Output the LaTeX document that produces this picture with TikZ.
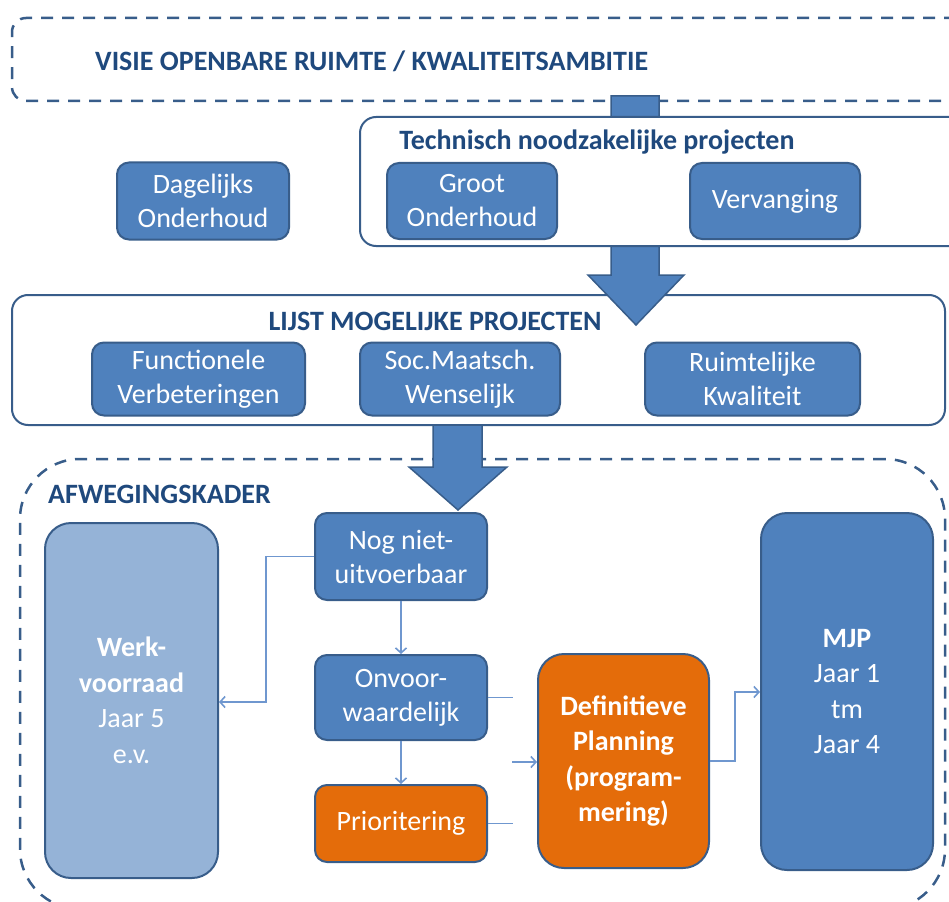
\documentclass[tikz,border=0pt]{standalone}
\usepackage{fontspec}
\setmainfont{Carlito}
\usetikzlibrary{arrows.meta,positioning,calc}
\definecolor{boxblue}{HTML}{4F81BD}
\definecolor{edgeblue}{HTML}{385D8A}
\definecolor{titleblue}{HTML}{1F497D}
\definecolor{paleblue}{HTML}{95B3D7}
\definecolor{lineblue}{HTML}{6F97CF}
\definecolor{planorange}{HTML}{E46C0A}

\tikzset{
    blok/.style={draw=edgeblue, line width=2pt, fill=boxblue, rounded corners=12pt, inner sep=0pt,
        text=white, align=center, font=\fontsize{28}{34}\selectfont},
    hoogblok/.style={blok, rounded corners=26pt, font=\fontsize{28}{35.5}\selectfont},
    kader/.style={draw=edgeblue, line width=2pt, fill=white, rounded corners=16pt, inner sep=0pt},
    streepkader/.style={draw=edgeblue, line width=2.5pt, dash pattern=on 12pt off 9pt, inner sep=0pt},
    kop/.style={text=titleblue, font=\fontsize{28}{34}\selectfont\bfseries, inner sep=0pt},
    pijl/.style={draw=lineblue, line width=1.6pt, -{Straight Barb[length=5pt,width=11pt]}},
    lijn/.style={draw=lineblue, line width=1.6pt},
    blokpijl/.style={draw=edgeblue, line width=1.5pt, fill=boxblue, line join=miter}
}

\begin{document}
\begin{tikzpicture}[x=1pt, y=-1pt]
\useasboundingbox (0,0) rectangle (949,901);
\clip (0,0) rectangle (949,901);

% visie
\node[streepkader, rounded corners=14pt, minimum width=958pt, minimum height=83pt] (visie) at (491,59.5) {};
\node[kop, anchor=west] (visietitel) at (95,61) {VISIE OPENBARE RUIMTE / KWALITEITSAMBITIE};

% lijst mogelijke projecten
\node[kader, minimum width=933pt, minimum height=130pt] (lijst) at (478.5,360) {};
\node[kop] (lijsttitel) at (435,321) {LIJST MOGELIJKE PROJECTEN};
\node[blok, minimum width=213pt, minimum height=73pt] (functioneel) at (198.5,379) {Functionele\\Verbeteringen};
\node[blok, minimum width=200pt, minimum height=73pt] (socmaat) at (460,379) {Soc.Maatsch.\\Wenselijk};
\node[blok, minimum width=215pt, minimum height=73pt] (ruimtelijk) at (752.5,379) {Ruimtelijke\\Kwaliteit};

% brede pijl boven
\draw[blokpijl] (611,96) -- (611,275) -- (588,275) -- (636,325) -- (684,275) -- (659,275) -- (659,96) -- cycle;

% technisch noodzakelijk
\node[kader, minimum width=610pt, minimum height=129pt] (technisch) at (665,181.5) {};
\node[kop] (techtitel) at (597,142) {Technisch noodzakelijke projecten};
\node[blok, minimum width=170pt, minimum height=76pt] (groot) at (472,201) {Groot\\Onderhoud};
\node[blok, minimum width=170pt, minimum height=76pt] (vervanging) at (775,201) {Vervanging};
\node[blok, minimum width=172pt, minimum height=77pt] (dagelijks) at (203,201) {Dagelijks\\Onderhoud};

% afwegingskader
\node[streepkader, rounded corners=60pt, minimum width=925pt, minimum height=450pt] (afweging) at (482.5,684) {};
\node[kop, anchor=west] (afwegtitel) at (48,494) {AFWEGINGSKADER};

% brede pijl onder
\draw[blokpijl] (433,425) -- (433,467) -- (409,467) -- (458,510) -- (507,467) -- (482,467) -- (482,425) -- cycle;

\node[hoogblok, fill=paleblue, minimum width=173pt, minimum height=355pt] (werk) at (131.5,700.5)
    {\bfseries Werk-\\\bfseries voorraad\\Jaar 5\\e.v.};
\node[blok, minimum width=172pt, minimum height=87pt] (nog) at (401,556.5) {Nog niet-\\uitvoerbaar};
\node[blok, minimum width=172pt, minimum height=85pt] (onvoor) at (401,697.5) {Onvoor-\\waardelijk};
\node[blok, fill=planorange, minimum width=172pt, minimum height=77pt] (prior) at (401,823.5) {Prioritering};
\node[hoogblok, fill=planorange, minimum width=171pt, minimum height=214pt] (definitief) at (623.5,761)
    {\bfseries Definitieve\\\bfseries Planning\\\bfseries (program-\\\bfseries mering)};
\node[hoogblok, minimum width=172pt, minimum height=357pt] (mjp) at (847,691.5)
    {\bfseries MJP\\Jaar 1\\tm\\Jaar 4};

% verbindingen
\coordinate (knikwerk) at (266,702);
\draw[pijl] (nog.west) -| (knikwerk) -- (knikwerk -| werk.east);
\draw[pijl] (nog.south) -- (onvoor.north);
\draw[pijl] (onvoor.south) -- (prior.north);
\draw[lijn] (onvoor.east) -- ++(25,0);
\draw[lijn] (prior.east) -- ++(25,0);
\coordinate (samen) at (512,762);
\draw[pijl] (samen) -- (samen -| definitief.west);
\coordinate (knikmjp) at (735,692);
\draw[pijl] (definitief.east) -| (knikmjp) -- (knikmjp -| mjp.west);
\end{tikzpicture}
\end{document}
